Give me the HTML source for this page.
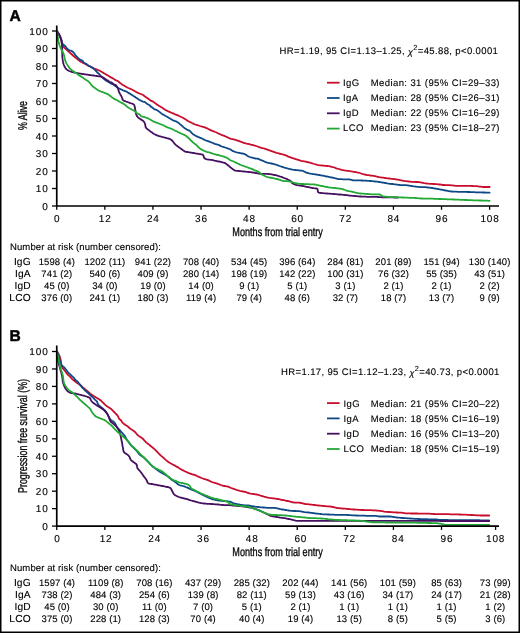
<!DOCTYPE html>
<html><head><meta charset="utf-8"><style>
html,body{margin:0;padding:0;background:#fff;}
body{width:520px;height:633px;overflow:hidden;position:relative;}
svg{position:absolute;left:0;top:0;display:block;will-change:transform;}
text{font-family:"Liberation Sans",sans-serif;fill:#000;stroke:#000;stroke-width:0.12px;text-rendering:geometricPrecision;}
.lt{font-size:15.6px;font-weight:bold;fill:#000;stroke:#000;stroke-width:0.45px;}
.tk{font-size:10px;letter-spacing:0.85px;}
.tx{font-size:9.5px;letter-spacing:0.4px;}
.tb{font-size:9.5px;letter-spacing:0.11px;}
.tr{font-size:10.2px;letter-spacing:0.15px;}
.cd{stroke:#111;stroke-width:0.35px;}
</style></head><body>
<svg width="520" height="633" viewBox="0 0 520 633">
<rect x="0.75" y="0.75" width="518.5" height="631.5" fill="#fff" stroke="#000" stroke-width="1.5"/>
<text x="9.6" y="20.55" class="lt">A</text>
<path d="M56.9,31.1 L57.5,32.0 L58.3,33.2 L59.1,34.5 L59.7,35.8 L60.3,37.2 L60.9,38.6 L61.3,40.0 L61.6,41.5 L61.7,43.0 L61.9,44.4 L62.3,45.8 L63.3,46.8 L64.5,47.8 L65.6,48.8 L66.7,49.8 L67.8,50.8 L68.5,51.5 L69.7,52.5 L70.8,53.5 L71.9,54.5 L73.0,55.5 L74.1,56.5 L75.3,57.5 L76.4,58.4 L77.6,59.3 L78.4,60.0 L79.6,60.9 L80.8,61.7 L82.2,62.4 L83.5,63.1 L84.8,63.7 L86.2,64.4 L87.1,64.9 L88.0,65.3 L88.9,65.8 L89.7,66.2 L90.6,66.7 L91.5,67.1 L92.4,67.6 L93.8,68.3 L95.1,68.9 L96.5,69.4 L97.5,69.8 L98.9,70.3 L100.2,71.0 L101.5,71.8 L102.3,72.3 L103.6,73.1 L104.9,73.8 L106.2,74.6 L107.5,75.3 L108.8,76.1 L110.1,76.9 L111.4,77.6 L112.7,78.3 L113.9,79.1 L115.2,79.9 L116.5,80.5 L117.9,81.1 L119.0,82.0 L120.1,83.0 L121.3,83.9 L122.5,84.8 L123.8,85.5 L125.1,86.3 L126.4,87.0 L127.8,87.7 L129.1,88.3 L130.1,88.7 L131.4,89.3 L132.8,90.0 L134.1,90.7 L135.4,91.5 L136.7,92.2 L138.0,92.9 L139.4,93.5 L140.8,94.0 L142.2,94.5 L143.4,95.3 L144.6,96.2 L145.8,97.1 L147.1,98.0 L148.3,98.8 L149.5,99.7 L150.6,100.7 L152.0,101.1 L153.3,101.6 L154.4,102.6 L155.6,103.5 L156.8,104.4 L158.1,105.2 L159.3,106.0 L160.6,106.8 L161.9,107.5 L163.2,108.3 L164.3,109.3 L165.5,110.1 L166.9,110.6 L168.2,111.3 L169.6,111.9 L170.9,112.5 L172.3,113.1 L173.7,113.7 L175.1,114.3 L176.5,114.8 L177.9,115.4 L179.2,116.0 L180.6,116.7 L181.9,117.3 L183.3,118.0 L184.5,118.8 L185.8,119.6 L187.1,120.4 L188.4,121.2 L189.7,121.9 L190.6,122.3 L191.5,122.8 L192.4,123.2 L193.7,123.9 L195.1,124.5 L196.5,124.9 L197.5,125.2 L198.4,125.5 L199.9,126.0 L201.3,126.4 L202.3,126.7 L203.2,126.9 L204.7,127.4 L206.1,127.9 L207.4,128.5 L208.8,129.2 L209.6,129.7 L211.0,130.3 L212.4,130.9 L213.8,131.4 L215.2,132.0 L216.6,132.5 L217.9,133.2 L218.8,133.6 L220.2,134.3 L221.5,134.9 L222.9,135.4 L224.3,135.9 L225.7,136.5 L227.1,137.1 L228.4,137.8 L229.8,138.4 L231.2,138.9 L232.7,139.2 L234.1,139.5 L235.6,139.9 L237.0,140.4 L238.4,140.9 L239.8,141.4 L241.2,141.9 L242.2,142.2 L243.6,142.8 L245.0,143.2 L246.5,143.6 L247.9,143.9 L249.4,144.2 L250.8,144.6 L251.8,144.8 L253.3,145.2 L254.7,145.6 L256.2,146.0 L257.6,146.5 L258.5,146.9 L259.9,147.3 L261.4,147.8 L262.8,148.2 L263.8,148.4 L265.2,148.8 L266.7,149.3 L268.1,149.8 L269.5,150.4 L270.9,150.9 L272.3,151.4 L273.7,151.9 L275.1,152.4 L276.5,152.9 L278.0,153.2 L278.9,153.5 L280.4,153.8 L281.9,154.2 L282.8,154.4 L284.3,154.8 L285.7,155.3 L287.0,155.9 L288.4,156.6 L289.8,157.1 L291.2,157.6 L292.6,158.1 L293.6,158.4 L295.0,158.9 L296.4,159.3 L297.4,159.6 L298.3,159.9 L299.8,160.4 L301.2,160.8 L302.7,161.1 L304.2,161.4 L305.6,161.7 L307.1,162.0 L308.6,162.3 L310.0,162.6 L311.5,163.1 L312.9,163.5 L314.3,164.0 L315.8,164.4 L317.2,164.8 L318.7,165.1 L320.2,165.3 L321.1,165.4 L322.1,165.5 L323.1,165.6 L324.1,165.7 L325.1,165.8 L326.1,165.9 L327.1,166.0 L328.6,166.2 L330.1,166.4 L331.5,166.8 L333.0,167.1 L334.4,167.5 L335.8,168.1 L337.2,168.6 L338.7,169.0 L340.1,169.4 L341.6,169.8 L343.0,170.1 L344.5,170.4 L346.0,170.6 L347.5,170.8 L348.5,170.9 L350.0,171.2 L351.4,171.4 L352.9,171.7 L353.9,171.8 L354.9,172.0 L355.9,172.2 L356.8,172.4 L358.3,172.6 L359.8,173.0 L361.2,173.5 L362.1,173.8 L363.1,174.1 L364.5,174.5 L366.0,174.8 L367.5,175.1 L368.5,175.2 L369.5,175.3 L370.4,175.5 L371.9,175.7 L373.4,175.9 L374.9,176.2 L375.9,176.4 L376.8,176.6 L377.8,176.8 L379.3,177.1 L380.8,177.3 L382.3,177.6 L383.3,177.7 L384.2,177.8 L385.2,178.0 L386.2,178.1 L387.7,178.3 L389.2,178.5 L390.7,178.7 L391.7,178.8 L392.7,178.9 L393.7,179.1 L395.2,179.2 L396.6,179.5 L398.1,179.7 L399.1,179.9 L400.1,180.1 L401.1,180.3 L402.5,180.6 L404.0,180.9 L405.5,181.1 L406.5,181.2 L407.5,181.4 L408.5,181.5 L409.9,181.7 L411.4,181.9 L412.9,181.9 L414.4,181.9 L415.9,182.0 L417.4,182.0 L418.9,182.2 L420.4,182.4 L421.9,182.6 L422.9,182.8 L424.3,183.1 L425.8,183.3 L426.8,183.5 L428.3,183.7 L429.8,183.8 L431.3,183.9 L432.3,183.9 L433.3,184.0 L434.3,184.0 L435.3,184.1 L436.8,184.1 L438.3,184.3 L439.7,184.5 L441.2,184.7 L442.7,185.0 L444.2,185.0 L445.7,185.1 L446.7,185.1 L447.7,185.2 L448.7,185.2 L449.7,185.2 L451.2,185.3 L452.7,185.4 L454.2,185.6 L455.7,185.8 L457.2,185.9 L458.7,185.9 L459.7,185.9 L460.7,185.9 L461.7,185.9 L462.7,185.9 L463.7,185.9 L464.7,185.9 L465.7,185.9 L466.7,185.9 L467.7,185.9 L469.2,185.9 L470.7,185.9 L472.2,186.0 L473.7,186.1 L475.2,186.1 L476.6,186.2 L478.1,186.4 L479.6,186.6 L480.6,186.7 L482.1,186.9 L483.6,187.0 L485.1,187.0 L486.1,187.0 L487.1,187.0 L488.6,187.0 L489.6,187.0" fill="none" stroke="#c90d2c" stroke-width="1.8" stroke-linejoin="round" stroke-linecap="round"/>
<path d="M56.9,31.1 L57.5,32.0 L58.3,33.2 L59.1,34.5 L59.7,35.8 L60.1,36.7 L60.5,37.6 L60.9,38.6 L61.2,39.5 L61.6,41.0 L62.0,42.4 L62.6,43.8 L63.5,44.9 L64.7,45.6 L65.8,46.6 L66.4,47.8 L67.1,48.7 L68.2,49.5 L69.2,50.3 L70.6,50.6 L72.0,51.1 L73.1,52.1 L74.1,53.2 L74.9,54.4 L75.7,55.7 L76.8,56.7 L77.5,57.4 L78.2,58.1 L79.0,58.8 L80.1,59.7 L81.5,60.3 L82.7,60.9 L83.4,62.1 L84.2,63.0 L85.6,63.4 L86.8,64.2 L87.6,65.3 L88.7,66.1 L90.1,66.4 L91.4,67.1 L92.6,68.0 L93.4,68.6 L94.6,69.6 L95.7,70.6 L96.6,71.7 L97.6,72.8 L98.8,73.7 L99.8,74.8 L100.4,75.6 L101.4,76.7 L102.5,77.7 L103.2,78.4 L104.4,79.4 L105.6,80.3 L106.8,81.1 L108.1,81.7 L109.4,82.5 L110.6,83.4 L111.9,83.9 L113.3,84.5 L114.5,85.3 L115.3,86.0 L116.1,86.6 L117.3,87.5 L118.6,88.2 L119.5,88.6 L120.4,89.1 L121.3,89.5 L122.2,89.9 L123.1,90.3 L124.5,90.8 L125.9,91.3 L127.2,92.1 L128.5,92.9 L129.8,93.6 L131.1,94.4 L132.3,95.2 L133.1,95.8 L134.0,96.3 L134.8,96.9 L135.7,97.4 L136.5,97.9 L137.8,98.8 L139.0,99.7 L140.3,100.4 L141.6,101.0 L142.9,101.6 L144.3,101.8 L145.5,102.6 L146.7,103.6 L147.9,104.3 L149.2,105.0 L150.3,106.0 L151.3,107.0 L152.6,107.6 L153.6,108.7 L154.7,109.4 L156.1,109.7 L157.4,110.4 L158.6,111.3 L159.4,111.9 L160.2,112.5 L161.0,113.1 L161.8,113.7 L162.6,114.2 L163.9,115.0 L165.2,115.8 L166.1,116.2 L167.0,116.7 L167.9,117.2 L169.1,118.0 L170.0,118.5 L170.8,119.0 L171.7,119.6 L173.0,120.3 L174.4,120.8 L175.3,121.2 L176.7,121.7 L178.0,122.5 L179.1,123.4 L179.9,124.1 L180.7,124.7 L181.4,125.4 L182.2,126.0 L182.9,126.7 L183.7,127.4 L184.8,128.3 L186.1,129.1 L187.4,129.9 L188.8,130.4 L190.0,131.0 L191.0,132.1 L191.9,133.2 L193.0,134.2 L194.3,134.9 L195.1,135.5 L196.4,136.2 L197.8,136.8 L198.7,137.2 L199.7,137.6 L200.6,137.9 L202.0,138.5 L203.3,139.2 L204.6,139.9 L206.0,140.5 L207.0,140.8 L207.9,141.1 L208.8,141.4 L209.8,141.8 L210.7,142.2 L211.6,142.5 L212.6,142.9 L213.5,143.3 L214.9,143.8 L215.9,144.1 L216.8,144.4 L217.8,144.7 L219.2,145.1 L220.4,145.9 L221.7,146.5 L223.2,146.9 L224.2,147.2 L225.1,147.5 L226.5,147.9 L227.5,148.3 L228.4,148.6 L229.4,149.0 L230.7,149.6 L231.9,150.4 L233.1,151.2 L234.5,151.7 L235.5,152.0 L236.4,152.3 L237.9,152.6 L239.3,152.9 L240.3,153.1 L241.3,153.3 L242.3,153.5 L243.3,153.7 L244.7,154.1 L246.0,154.8 L247.2,155.7 L248.4,156.5 L249.8,157.0 L251.2,157.4 L252.2,157.7 L253.2,157.9 L254.6,158.3 L256.1,158.5 L257.6,158.6 L258.9,159.1 L260.3,159.8 L261.7,160.3 L263.1,160.8 L264.4,161.5 L265.8,162.1 L267.2,162.6 L268.7,162.9 L269.6,163.1 L270.6,163.3 L271.6,163.5 L273.1,163.8 L274.0,164.1 L275.0,164.4 L275.9,164.7 L276.9,165.0 L277.8,165.3 L278.8,165.7 L279.7,166.0 L280.7,166.3 L281.6,166.7 L283.0,167.2 L284.5,167.6 L285.4,167.8 L286.4,168.1 L287.4,168.3 L288.3,168.6 L289.3,168.8 L290.3,169.1 L291.2,169.3 L292.7,169.7 L294.2,169.9 L295.2,170.0 L296.2,170.1 L297.2,170.2 L298.2,170.3 L299.2,170.4 L300.2,170.5 L301.7,170.6 L303.1,171.0 L304.4,171.7 L305.8,172.3 L307.2,172.8 L308.2,173.0 L309.1,173.3 L310.6,173.7 L312.1,173.9 L313.1,174.1 L314.0,174.2 L315.0,174.4 L316.0,174.5 L317.0,174.7 L318.0,174.9 L319.0,175.0 L320.0,175.2 L321.0,175.4 L321.9,175.6 L322.9,175.7 L323.9,175.9 L324.9,176.1 L325.9,176.3 L326.9,176.5 L327.8,176.7 L328.8,176.9 L329.8,177.1 L330.8,177.3 L331.8,177.5 L332.7,177.7 L333.7,177.9 L334.7,178.2 L335.7,178.4 L336.6,178.7 L338.1,179.0 L339.6,179.1 L340.6,179.2 L341.6,179.2 L342.6,179.3 L343.6,179.3 L344.6,179.3 L345.6,179.4 L346.6,179.4 L347.6,179.4 L348.6,179.4 L350.1,179.5 L351.5,179.9 L352.9,180.3 L354.4,180.4 L355.4,180.4 L356.4,180.4 L357.4,180.4 L358.4,180.4 L359.4,180.4 L360.4,180.4 L361.4,180.5 L362.4,180.5 L363.4,180.6 L364.4,180.6 L365.4,180.7 L366.4,180.7 L367.4,180.8 L368.4,180.8 L369.4,180.9 L370.4,181.0 L371.4,181.1 L372.4,181.2 L373.4,181.3 L374.4,181.4 L375.4,181.5 L376.4,181.6 L377.3,181.7 L378.3,181.9 L379.3,182.0 L380.3,182.2 L381.3,182.3 L382.3,182.5 L383.3,182.7 L384.3,182.9 L385.2,183.0 L386.2,183.2 L387.2,183.4 L388.7,183.6 L389.7,183.8 L390.7,183.9 L391.7,184.0 L392.7,184.0 L393.7,184.2 L394.7,184.3 L395.7,184.4 L396.6,184.6 L397.6,184.7 L398.6,184.8 L400.1,185.0 L401.6,185.1 L402.6,185.1 L403.6,185.1 L404.6,185.1 L406.1,185.1 L407.6,185.3 L408.6,185.5 L409.6,185.6 L410.5,185.8 L411.5,186.0 L412.5,186.2 L413.5,186.3 L414.5,186.4 L415.5,186.6 L416.5,186.7 L417.5,186.8 L418.5,186.9 L420.0,187.1 L421.0,187.1 L422.0,187.1 L423.0,187.1 L424.0,187.2 L425.5,187.2 L427.0,187.4 L427.9,187.5 L428.9,187.6 L429.9,187.7 L430.9,187.9 L431.9,188.0 L432.9,188.2 L433.9,188.4 L434.9,188.5 L435.9,188.7 L436.8,188.9 L437.8,189.0 L438.8,189.2 L439.8,189.4 L440.8,189.6 L441.8,189.7 L442.8,189.9 L443.7,190.1 L444.7,190.3 L445.7,190.5 L446.7,190.7 L447.7,190.9 L448.6,191.1 L450.1,191.4 L451.6,191.5 L452.6,191.6 L453.6,191.6 L454.6,191.7 L455.6,191.7 L456.6,191.7 L457.6,191.8 L458.6,191.8 L459.6,191.8 L460.6,191.8 L461.6,191.8 L462.6,191.9 L463.6,191.9 L464.6,191.9 L465.6,191.9 L466.6,191.9 L467.6,192.0 L468.6,192.0 L469.6,192.0 L470.6,192.1 L471.6,192.1 L472.6,192.2 L473.6,192.2 L474.6,192.2 L475.6,192.3 L476.6,192.3 L477.6,192.3 L478.6,192.3 L479.6,192.4 L480.6,192.4 L481.6,192.4 L482.6,192.5 L483.6,192.5 L484.6,192.5 L485.6,192.6 L486.6,192.6 L487.6,192.6 L489.0,192.7 L489.6,192.7" fill="none" stroke="#0e4987" stroke-width="1.8" stroke-linejoin="round" stroke-linecap="round"/>
<path d="M56.9,31.1 L57.5,32.0 L58.3,33.2 L59.1,34.5 L59.7,35.8 L60.1,36.7 L60.5,37.7 L60.9,38.6 L61.3,40.0 L61.6,41.5 L61.7,42.5 L61.8,43.5 L61.9,44.5 L62.0,45.4 L62.1,46.4 L62.1,47.4 L62.2,48.4 L62.2,49.4 L62.2,50.4 L62.2,51.4 L62.2,52.4 L62.2,53.4 L62.3,54.4 L62.3,55.5 L62.3,56.5 L62.4,57.9 L62.6,58.9 L62.7,59.9 L62.9,60.9 L63.0,61.9 L63.3,63.4 L63.8,64.8 L64.2,65.7 L64.8,67.1 L65.6,68.3 L66.6,69.4 L67.8,70.3 L69.1,71.0 L70.5,71.5 L71.5,71.8 L72.5,72.1 L73.4,72.4 L74.9,72.7 L75.9,72.9 L76.9,73.1 L77.8,73.2 L78.8,73.4 L79.8,73.6 L80.8,73.7 L81.8,73.9 L82.8,74.0 L83.8,74.1 L84.8,74.3 L85.8,74.4 L86.7,74.6 L87.7,74.7 L88.7,74.8 L89.7,75.0 L90.7,75.1 L91.7,75.3 L92.7,75.4 L93.7,75.5 L94.7,75.7 L95.7,75.8 L96.7,76.0 L97.6,76.1 L98.6,76.3 L99.6,76.4 L101.1,76.7 L102.5,77.2 L103.8,77.9 L105.0,78.8 L106.2,79.7 L107.5,80.3 L108.7,81.2 L109.8,82.0 L111.2,82.4 L112.4,83.0 L113.2,84.1 L114.5,84.6 L115.8,85.1 L116.7,86.2 L117.5,87.4 L118.1,88.8 L118.5,90.2 L118.9,91.7 L119.6,93.0 L120.0,93.9 L120.5,94.8 L121.0,95.6 L121.7,96.9 L122.3,98.3 L122.6,99.7 L123.6,100.6 L125.0,101.1 L125.9,101.5 L126.9,101.8 L127.8,102.2 L128.7,102.5 L129.7,102.9 L130.6,103.2 L131.6,103.5 L133.0,104.0 L134.1,104.8 L134.6,106.1 L134.9,107.5 L135.1,108.5 L135.2,109.5 L135.4,110.5 L135.6,111.5 L135.8,112.5 L136.0,113.4 L136.3,114.9 L137.0,116.2 L138.0,117.3 L139.1,118.3 L140.3,119.1 L141.2,119.6 L142.1,120.1 L143.3,121.0 L144.2,122.1 L144.9,123.4 L145.2,124.8 L145.4,125.8 L145.7,127.3 L146.5,128.4 L147.6,129.3 L148.4,129.9 L149.2,130.5 L150.0,131.1 L150.8,131.7 L151.7,132.3 L152.5,132.9 L153.7,133.7 L154.6,134.2 L155.5,134.6 L156.4,135.1 L157.7,135.7 L159.2,136.2 L160.1,136.4 L161.1,136.6 L162.1,136.9 L163.1,137.1 L164.0,137.4 L165.0,137.6 L166.0,137.9 L166.9,138.2 L167.9,138.5 L168.8,138.7 L170.2,139.2 L171.5,140.0 L172.6,141.0 L173.5,142.2 L174.1,143.0 L175.0,144.2 L176.1,145.2 L176.9,145.8 L177.7,146.4 L178.5,147.0 L179.3,147.5 L180.1,148.1 L180.9,148.7 L181.7,149.3 L182.5,149.9 L183.4,150.5 L184.6,151.3 L186.0,151.8 L187.4,152.0 L188.4,152.2 L189.4,152.3 L190.4,152.5 L191.4,152.6 L192.4,152.8 L193.4,153.0 L194.4,153.2 L195.3,153.4 L196.3,153.6 L197.3,153.7 L198.3,153.9 L199.3,154.1 L200.3,154.2 L201.3,154.4 L202.7,154.7 L203.5,155.6 L203.8,157.0 L204.4,158.2 L205.6,158.9 L207.0,159.3 L208.5,159.6 L209.5,159.7 L210.5,159.8 L211.5,159.9 L212.9,160.1 L214.4,160.6 L215.8,160.9 L216.8,161.1 L217.8,161.3 L218.8,161.5 L219.8,161.7 L220.7,161.9 L221.7,162.1 L222.7,162.4 L223.6,162.6 L225.1,163.1 L226.3,163.9 L227.4,164.8 L228.2,165.5 L229.0,166.1 L229.8,166.8 L230.5,167.4 L231.3,168.0 L232.1,168.6 L232.9,169.3 L234.1,170.1 L235.4,170.6 L236.9,170.8 L237.9,170.9 L238.9,171.0 L239.9,171.1 L240.9,171.2 L241.9,171.3 L242.9,171.4 L243.9,171.5 L244.9,171.6 L245.9,171.7 L246.9,171.8 L247.9,171.9 L248.9,172.0 L249.9,172.1 L250.9,172.2 L251.9,172.3 L252.8,172.5 L253.8,172.7 L254.8,172.9 L255.8,173.0 L256.8,173.2 L257.8,173.4 L258.7,173.6 L260.2,173.8 L261.7,173.8 L262.7,173.9 L263.7,173.9 L264.7,173.9 L265.7,173.9 L266.7,173.9 L267.7,173.9 L268.7,174.0 L270.2,174.1 L271.7,174.4 L272.7,174.6 L273.7,174.8 L274.6,175.0 L275.6,175.2 L276.6,175.4 L277.5,175.7 L278.5,176.0 L279.5,176.3 L280.4,176.6 L281.4,176.9 L282.3,177.2 L283.2,177.6 L284.2,178.0 L285.1,178.3 L286.0,178.7 L287.0,179.1 L288.3,179.7 L289.2,180.2 L290.5,180.9 L291.4,182.0 L292.3,183.2 L293.5,183.9 L294.9,184.5 L295.9,184.8 L297.3,185.2 L298.8,185.4 L299.8,185.6 L300.8,185.7 L301.8,185.9 L302.7,186.0 L303.7,186.2 L304.7,186.4 L305.7,186.6 L306.7,186.8 L307.7,187.0 L308.6,187.2 L309.6,187.4 L310.6,187.6 L311.6,187.8 L312.6,188.0 L314.0,188.2 L315.0,188.3 L316.5,188.5 L317.5,189.1 L317.8,190.4 L317.9,191.9 L318.7,192.7 L320.1,192.9 L321.1,193.0 L322.1,193.1 L323.1,193.2 L324.1,193.3 L325.1,193.3 L326.1,193.4 L327.1,193.5 L328.1,193.6 L329.1,193.6 L330.1,193.7 L331.1,193.8 L332.1,193.9 L333.1,193.9 L334.1,194.0 L335.1,194.1 L336.1,194.2 L337.1,194.3 L338.1,194.4 L339.1,194.5 L340.1,194.5 L341.1,194.6 L342.1,194.7 L343.1,194.8 L344.1,194.9 L345.1,195.0 L346.0,195.1 L347.0,195.2 L348.0,195.3 L349.0,195.5 L350.0,195.6 L351.0,195.7 L352.0,195.8 L353.0,195.8 L354.0,195.9 L355.0,196.0 L356.0,196.1 L357.0,196.2 L358.0,196.3 L359.0,196.4 L360.0,196.5 L361.0,196.5 L362.0,196.6 L363.0,196.6 L364.0,196.6 L365.0,196.7 L366.0,196.7 L367.0,196.8 L368.0,196.8 L369.0,196.8 L370.0,196.8 L371.0,196.8 L372.0,196.8 L373.0,196.8 L374.0,196.8 L375.0,196.8 L376.0,196.8 L377.0,196.9 L378.0,197.0 L379.0,197.1 L380.0,197.2 L381.0,197.2 L382.0,197.3 L383.0,197.3 L384.0,197.3 L385.0,197.3 L386.0,197.4 L387.0,197.4 L388.0,197.4 L389.0,197.4 L390.0,197.4 L391.0,197.4 L392.0,197.4 L393.0,197.4 L394.0,197.5 L395.0,197.5 L396.0,197.5 L397.4,197.5 L398.0,197.5" fill="none" stroke="#45105f" stroke-width="1.8" stroke-linejoin="round" stroke-linecap="round"/>
<path d="M57.1,31.8 L57.2,32.8 L57.4,34.3 L57.5,35.3 L57.6,36.3 L57.7,37.3 L57.9,38.3 L58.1,39.2 L58.2,40.2 L58.4,41.2 L58.8,42.7 L59.0,43.6 L59.3,44.6 L59.8,46.0 L60.4,47.4 L60.8,48.3 L61.2,49.2 L61.7,50.1 L62.2,50.9 L62.7,51.8 L63.3,53.2 L63.8,54.6 L64.2,56.0 L64.4,57.0 L64.6,58.0 L64.8,59.0 L65.1,59.9 L65.5,61.4 L66.1,62.7 L66.6,63.6 L67.4,64.9 L67.9,65.7 L68.5,66.6 L69.3,67.8 L70.3,68.9 L71.4,70.0 L72.6,70.8 L73.4,71.4 L74.3,71.9 L75.5,72.7 L76.4,73.3 L77.2,73.9 L78.0,74.5 L78.8,75.1 L80.0,75.9 L80.9,76.4 L81.8,76.9 L83.0,77.7 L84.2,78.6 L85.0,79.3 L86.2,80.1 L87.5,80.7 L88.7,81.6 L89.6,82.7 L90.3,83.5 L90.9,84.3 L91.5,85.0 L92.5,86.2 L93.6,87.1 L94.9,88.0 L95.7,88.5 L96.5,89.1 L97.3,89.7 L98.6,90.5 L99.9,91.1 L100.9,91.5 L101.8,91.8 L102.8,92.2 L103.7,92.5 L104.6,92.9 L105.6,93.2 L106.5,93.6 L107.9,94.2 L109.1,95.0 L109.9,95.7 L110.7,96.3 L111.4,96.9 L112.6,97.8 L113.9,98.6 L114.8,99.1 L115.7,99.5 L116.6,100.0 L117.5,100.4 L118.3,100.9 L119.6,101.7 L120.5,102.2 L121.8,102.9 L123.1,103.6 L124.4,104.4 L125.6,105.3 L126.3,106.0 L127.4,106.9 L128.7,107.8 L129.5,108.3 L130.4,108.8 L131.3,109.3 L132.2,109.8 L133.5,110.4 L134.8,111.1 L135.8,112.2 L136.9,113.2 L138.2,113.9 L139.5,114.4 L140.3,115.4 L141.3,116.3 L142.7,116.7 L143.6,116.9 L144.6,117.2 L145.6,117.5 L146.5,117.8 L147.5,118.1 L148.8,118.7 L150.1,119.5 L151.0,120.0 L151.8,120.5 L153.1,121.3 L154.5,121.9 L155.4,122.2 L156.4,122.6 L157.3,122.9 L158.2,123.3 L159.2,123.6 L160.1,124.0 L161.1,124.3 L162.0,124.7 L163.4,125.3 L164.3,125.8 L165.1,126.2 L166.0,126.7 L167.4,127.3 L168.3,127.6 L169.3,128.0 L170.2,128.3 L171.2,128.7 L172.5,129.3 L173.4,129.8 L174.3,130.2 L175.2,130.7 L176.1,131.1 L177.0,131.5 L177.9,132.0 L178.8,132.4 L179.7,132.9 L180.6,133.3 L181.5,133.7 L182.4,134.1 L183.4,134.5 L184.7,135.1 L186.0,135.9 L187.2,136.8 L187.9,137.5 L188.6,138.2 L189.4,138.8 L190.1,139.5 L190.8,140.3 L191.5,141.0 L192.2,141.7 L193.2,142.7 L194.5,143.6 L195.3,144.2 L196.5,145.1 L197.5,146.2 L198.2,146.9 L199.2,148.0 L200.4,148.9 L201.7,149.6 L203.0,150.3 L204.4,150.9 L205.3,151.3 L206.7,151.8 L208.2,152.2 L209.2,152.4 L210.6,152.8 L212.0,153.3 L212.9,153.7 L213.9,154.0 L215.3,154.4 L216.8,154.8 L217.8,155.0 L218.8,155.2 L220.2,155.6 L221.2,155.8 L222.1,156.1 L223.1,156.4 L224.0,156.7 L225.0,157.1 L225.9,157.4 L227.3,158.0 L228.5,158.9 L229.6,159.8 L230.9,160.5 L232.3,161.0 L233.7,161.5 L235.1,162.2 L236.0,162.6 L236.9,163.1 L237.7,163.5 L238.6,163.9 L239.5,164.4 L240.9,165.0 L241.9,165.3 L242.8,165.7 L243.8,166.0 L244.7,166.3 L245.6,166.7 L246.6,167.0 L247.5,167.4 L248.4,167.7 L249.4,168.1 L250.3,168.4 L251.3,168.7 L252.2,169.1 L253.6,169.7 L254.9,170.4 L256.3,170.9 L257.7,171.4 L259.0,172.1 L260.1,173.0 L260.9,173.7 L262.1,174.6 L263.4,175.3 L264.3,175.8 L265.2,176.2 L266.5,176.8 L268.0,177.2 L269.0,177.4 L269.9,177.6 L270.9,177.8 L271.9,178.0 L272.9,178.2 L273.9,178.4 L274.9,178.6 L275.8,178.8 L276.8,179.0 L278.3,179.3 L279.7,179.8 L280.6,180.2 L282.0,180.7 L283.5,181.0 L285.0,181.1 L286.0,181.2 L287.0,181.2 L288.0,181.3 L289.5,181.3 L290.9,181.7 L292.3,182.2 L293.2,182.5 L294.7,183.0 L295.6,183.2 L297.1,183.5 L298.6,183.7 L299.6,183.8 L300.6,183.9 L301.6,184.0 L302.6,184.0 L303.6,184.0 L304.6,184.1 L305.6,184.1 L306.6,184.1 L307.6,184.2 L308.6,184.2 L309.6,184.3 L310.6,184.3 L311.6,184.4 L312.6,184.4 L313.6,184.4 L315.1,184.5 L316.5,184.9 L317.5,185.1 L319.0,185.4 L319.9,185.6 L320.9,185.8 L321.9,186.0 L322.9,186.2 L323.9,186.4 L324.8,186.6 L325.8,186.8 L326.8,187.0 L327.8,187.2 L328.8,187.4 L330.3,187.6 L331.3,187.7 L332.3,187.8 L333.2,187.9 L334.2,187.9 L335.2,188.0 L336.2,188.1 L337.2,188.3 L338.2,188.4 L339.2,188.6 L340.2,188.7 L341.2,188.9 L342.2,189.1 L343.6,189.4 L345.0,190.0 L346.0,190.3 L347.4,190.8 L348.8,191.1 L350.3,191.3 L351.8,191.7 L352.7,191.9 L353.7,192.2 L354.7,192.4 L355.6,192.7 L356.6,192.9 L358.1,193.2 L359.6,193.4 L360.6,193.5 L361.6,193.6 L362.6,193.6 L363.6,193.7 L364.6,193.8 L365.6,193.8 L366.6,193.9 L367.6,194.0 L368.5,194.1 L369.5,194.1 L370.5,194.2 L371.5,194.3 L372.5,194.4 L373.5,194.4 L374.5,194.4 L375.5,194.4 L376.5,194.4 L377.5,194.4 L378.5,194.4 L380.0,194.5 L381.2,195.2 L382.3,196.1 L383.6,196.5 L385.1,196.6 L386.1,196.7 L387.1,196.8 L388.1,196.9 L389.1,197.0 L390.1,197.1 L391.1,197.1 L392.1,197.1 L393.1,197.2 L394.1,197.2 L395.1,197.2 L396.1,197.2 L397.1,197.3 L398.1,197.3 L399.1,197.3 L400.1,197.4 L401.1,197.4 L402.1,197.5 L403.1,197.5 L404.1,197.6 L405.1,197.6 L406.1,197.7 L407.1,197.7 L408.1,197.7 L409.1,197.8 L410.1,197.8 L411.1,197.8 L412.1,197.8 L413.1,197.8 L414.1,197.9 L415.6,198.0 L416.6,198.1 L417.6,198.2 L418.6,198.3 L420.1,198.4 L421.1,198.5 L422.1,198.5 L423.1,198.6 L424.1,198.6 L425.1,198.6 L426.1,198.6 L427.1,198.7 L428.1,198.7 L429.1,198.7 L430.1,198.7 L431.1,198.7 L432.1,198.7 L433.1,198.7 L434.1,198.8 L435.1,198.8 L436.1,198.9 L437.1,198.9 L438.1,198.9 L439.1,199.0 L440.1,199.0 L441.1,199.0 L442.1,199.1 L443.1,199.1 L444.1,199.1 L445.1,199.2 L446.1,199.2 L447.1,199.3 L448.1,199.3 L449.1,199.3 L450.1,199.4 L451.1,199.4 L452.1,199.4 L453.1,199.5 L454.1,199.5 L455.1,199.6 L456.1,199.6 L457.1,199.6 L458.1,199.7 L459.1,199.7 L460.1,199.8 L461.1,199.8 L462.1,199.8 L463.1,199.9 L464.1,199.9 L465.1,200.0 L466.1,200.0 L467.1,200.0 L468.1,200.1 L469.1,200.1 L470.1,200.1 L471.1,200.2 L472.1,200.2 L473.1,200.3 L474.1,200.3 L475.1,200.3 L476.1,200.4 L477.1,200.4 L478.1,200.4 L479.1,200.5 L480.1,200.5 L481.1,200.5 L482.1,200.6 L483.1,200.6 L484.1,200.6 L485.1,200.7 L486.1,200.7 L487.1,200.7 L488.6,200.8 L489.6,200.8" fill="none" stroke="#22a935" stroke-width="1.8" stroke-linejoin="round" stroke-linecap="round"/>
<path d="M56.75,25.4 V206 H499" fill="none" stroke="#000" stroke-width="1.7"/>
<path d="M52,206.00 H56.75" stroke="#000" stroke-width="1.3"/>
<text x="48.6" y="209.60" class="tk" text-anchor="end">0</text>
<path d="M52,188.50 H56.75" stroke="#000" stroke-width="1.3"/>
<text x="48.6" y="192.10" class="tk" text-anchor="end">10</text>
<path d="M52,171.00 H56.75" stroke="#000" stroke-width="1.3"/>
<text x="48.6" y="174.60" class="tk" text-anchor="end">20</text>
<path d="M52,153.50 H56.75" stroke="#000" stroke-width="1.3"/>
<text x="48.6" y="157.10" class="tk" text-anchor="end">30</text>
<path d="M52,136.00 H56.75" stroke="#000" stroke-width="1.3"/>
<text x="48.6" y="139.60" class="tk" text-anchor="end">40</text>
<path d="M52,118.50 H56.75" stroke="#000" stroke-width="1.3"/>
<text x="48.6" y="122.10" class="tk" text-anchor="end">50</text>
<path d="M52,101.00 H56.75" stroke="#000" stroke-width="1.3"/>
<text x="48.6" y="104.60" class="tk" text-anchor="end">60</text>
<path d="M52,83.50 H56.75" stroke="#000" stroke-width="1.3"/>
<text x="48.6" y="87.10" class="tk" text-anchor="end">70</text>
<path d="M52,66.00 H56.75" stroke="#000" stroke-width="1.3"/>
<text x="48.6" y="69.60" class="tk" text-anchor="end">80</text>
<path d="M52,48.50 H56.75" stroke="#000" stroke-width="1.3"/>
<text x="48.6" y="52.10" class="tk" text-anchor="end">90</text>
<path d="M52,31.00 H56.75" stroke="#000" stroke-width="1.3"/>
<text x="48.6" y="34.60" class="tk" text-anchor="end">100</text>
<path d="M56.75,206 V209.8" stroke="#000" stroke-width="1.3"/>
<text x="57.15" y="222" class="tk" text-anchor="middle">0</text>
<path d="M104.85,206 V209.8" stroke="#000" stroke-width="1.3"/>
<text x="105.25" y="222" class="tk" text-anchor="middle">12</text>
<path d="M152.94,206 V209.8" stroke="#000" stroke-width="1.3"/>
<text x="153.34" y="222" class="tk" text-anchor="middle">24</text>
<path d="M201.04,206 V209.8" stroke="#000" stroke-width="1.3"/>
<text x="201.44" y="222" class="tk" text-anchor="middle">36</text>
<path d="M249.13,206 V209.8" stroke="#000" stroke-width="1.3"/>
<text x="249.53" y="222" class="tk" text-anchor="middle">48</text>
<path d="M297.23,206 V209.8" stroke="#000" stroke-width="1.3"/>
<text x="297.63" y="222" class="tk" text-anchor="middle">60</text>
<path d="M345.33,206 V209.8" stroke="#000" stroke-width="1.3"/>
<text x="345.73" y="222" class="tk" text-anchor="middle">72</text>
<path d="M393.42,206 V209.8" stroke="#000" stroke-width="1.3"/>
<text x="393.82" y="222" class="tk" text-anchor="middle">84</text>
<path d="M441.52,206 V209.8" stroke="#000" stroke-width="1.3"/>
<text x="441.92" y="222" class="tk" text-anchor="middle">96</text>
<path d="M489.61,206 V209.8" stroke="#000" stroke-width="1.3"/>
<text x="490.01" y="222" class="tk" text-anchor="middle">108</text>
<text x="277.6" y="236.4" class="cd" font-size="12.3" text-anchor="middle" textLength="90.5" lengthAdjust="spacingAndGlyphs">Months from trial entry</text>
<text transform="translate(26.9,115.55) rotate(-90)" x="0" y="0" class="cd" font-size="12.8" text-anchor="middle" textLength="29.1" lengthAdjust="spacingAndGlyphs">% Alive</text>
<text x="279.6" y="54.1" class="tx" style="letter-spacing:0.37px">HR=1.19, 95 CI=1.13–1.25, <tspan font-style="italic" font-size="9" dy="0.8">χ</tspan><tspan dy="-4.8" font-size="7.3">2</tspan><tspan dy="4">=45.88, p&lt;0.0001</tspan></text>
<path d="M327,82.7 H339.6" stroke="#c90d2c" stroke-width="1.8"/>
<text x="343.0" y="86.3" class="tx">IgG</text>
<text x="370.8" y="86.3" class="tx">Median: 31 (95% CI=29–33)</text>
<path d="M327,98.0 H339.6" stroke="#0e4987" stroke-width="1.8"/>
<text x="343.0" y="101.3" class="tx">IgA</text>
<text x="370.8" y="101.3" class="tx">Median: 28 (95% CI=26–31)</text>
<path d="M327,113.3 H339.6" stroke="#45105f" stroke-width="1.8"/>
<text x="343.0" y="116.3" class="tx">IgD</text>
<text x="370.8" y="116.3" class="tx">Median: 22 (95% CI=16–29)</text>
<path d="M327,128.6 H339.6" stroke="#22a935" stroke-width="1.8"/>
<text x="343.0" y="131.3" class="tx">LCO</text>
<text x="370.8" y="131.3" class="tx">Median: 23 (95% CI=18–27)</text>
<text x="10.0" y="250.3" class="tb">Number at risk (number censored):</text>
<text x="30.75" y="265.1" class="tr" text-anchor="end">IgG</text>
<text x="56.80" y="265.1" class="tb" text-anchor="middle">1598 (4)</text>
<text x="104.90" y="265.1" class="tb" text-anchor="middle">1202 (11)</text>
<text x="153.00" y="265.1" class="tb" text-anchor="middle">941 (22)</text>
<text x="201.09" y="265.1" class="tb" text-anchor="middle">708 (40)</text>
<text x="249.19" y="265.1" class="tb" text-anchor="middle">534 (45)</text>
<text x="297.29" y="265.1" class="tb" text-anchor="middle">396 (64)</text>
<text x="345.38" y="265.1" class="tb" text-anchor="middle">284 (81)</text>
<text x="393.48" y="265.1" class="tb" text-anchor="middle">201 (89)</text>
<text x="441.57" y="265.1" class="tb" text-anchor="middle">151 (94)</text>
<text x="489.67" y="265.1" class="tb" text-anchor="middle">130 (140)</text>
<text x="30.75" y="277.1" class="tr" text-anchor="end">IgA</text>
<text x="56.80" y="277.1" class="tb" text-anchor="middle">741 (2)</text>
<text x="104.90" y="277.1" class="tb" text-anchor="middle">540 (6)</text>
<text x="153.00" y="277.1" class="tb" text-anchor="middle">409 (9)</text>
<text x="201.09" y="277.1" class="tb" text-anchor="middle">280 (14)</text>
<text x="249.19" y="277.1" class="tb" text-anchor="middle">198 (19)</text>
<text x="297.29" y="277.1" class="tb" text-anchor="middle">142 (22)</text>
<text x="345.38" y="277.1" class="tb" text-anchor="middle">100 (31)</text>
<text x="393.48" y="277.1" class="tb" text-anchor="middle">76 (32)</text>
<text x="441.57" y="277.1" class="tb" text-anchor="middle">55 (35)</text>
<text x="489.67" y="277.1" class="tb" text-anchor="middle">43 (51)</text>
<text x="30.75" y="289.1" class="tr" text-anchor="end">IgD</text>
<text x="56.80" y="289.1" class="tb" text-anchor="middle">45 (0)</text>
<text x="104.90" y="289.1" class="tb" text-anchor="middle">34 (0)</text>
<text x="153.00" y="289.1" class="tb" text-anchor="middle">19 (0)</text>
<text x="201.09" y="289.1" class="tb" text-anchor="middle">14 (0)</text>
<text x="249.19" y="289.1" class="tb" text-anchor="middle">9 (1)</text>
<text x="297.29" y="289.1" class="tb" text-anchor="middle">5 (1)</text>
<text x="345.38" y="289.1" class="tb" text-anchor="middle">3 (1)</text>
<text x="393.48" y="289.1" class="tb" text-anchor="middle">2 (1)</text>
<text x="441.57" y="289.1" class="tb" text-anchor="middle">2 (1)</text>
<text x="489.67" y="289.1" class="tb" text-anchor="middle">2 (2)</text>
<text x="30.75" y="301.1" class="tr" text-anchor="end">LCO</text>
<text x="56.80" y="301.1" class="tb" text-anchor="middle">376 (0)</text>
<text x="104.90" y="301.1" class="tb" text-anchor="middle">241 (1)</text>
<text x="153.00" y="301.1" class="tb" text-anchor="middle">180 (3)</text>
<text x="201.09" y="301.1" class="tb" text-anchor="middle">119 (4)</text>
<text x="249.19" y="301.1" class="tb" text-anchor="middle">79 (4)</text>
<text x="297.29" y="301.1" class="tb" text-anchor="middle">48 (6)</text>
<text x="345.38" y="301.1" class="tb" text-anchor="middle">32 (7)</text>
<text x="393.48" y="301.1" class="tb" text-anchor="middle">18 (7)</text>
<text x="441.57" y="301.1" class="tb" text-anchor="middle">13 (7)</text>
<text x="489.67" y="301.1" class="tb" text-anchor="middle">9 (9)</text>
<text x="9.6" y="340.85" class="lt">B</text>
<path d="M57.2,351.7 L57.8,352.6 L58.5,353.8 L59.1,355.2 L59.5,356.1 L60.0,357.5 L60.3,358.5 L60.7,359.9 L61.0,361.4 L61.1,362.9 L61.3,364.4 L61.5,365.8 L62.1,367.2 L62.9,368.4 L63.6,369.2 L64.2,370.0 L64.8,370.7 L65.4,371.5 L66.0,372.3 L66.6,373.1 L67.5,374.3 L68.6,375.4 L69.7,376.4 L70.7,377.5 L71.7,378.6 L72.8,379.6 L73.6,380.3 L74.8,381.2 L76.0,382.1 L76.8,382.7 L77.6,383.3 L78.4,383.8 L79.2,384.4 L80.4,385.3 L81.6,386.3 L82.3,386.9 L83.1,387.6 L83.9,388.2 L84.6,388.9 L85.4,389.5 L86.2,390.1 L86.9,390.8 L88.1,391.7 L89.1,392.8 L90.3,393.8 L91.5,394.6 L92.4,395.1 L93.2,395.7 L94.1,396.2 L94.9,396.7 L95.7,397.3 L97.0,398.0 L97.9,398.5 L99.2,399.3 L100.4,400.2 L101.5,401.2 L102.2,401.9 L103.3,402.9 L104.0,403.6 L104.7,404.4 L105.8,405.4 L106.9,406.3 L108.2,407.1 L109.1,407.6 L110.4,408.4 L111.5,409.3 L112.6,410.4 L113.2,411.1 L113.9,411.8 L114.7,412.5 L115.4,413.3 L116.1,414.0 L117.1,415.0 L118.0,416.2 L118.6,417.6 L119.2,418.9 L120.2,419.7 L121.2,420.5 L121.8,421.7 L122.7,422.9 L123.8,423.8 L125.1,424.7 L126.3,425.5 L127.6,426.3 L128.7,427.2 L129.7,428.3 L130.9,429.1 L132.2,429.9 L133.5,430.7 L134.7,431.7 L135.7,432.8 L136.3,433.5 L137.0,434.3 L138.0,435.4 L139.2,436.3 L140.4,437.1 L141.3,437.6 L142.5,438.5 L143.6,439.5 L144.5,440.7 L145.2,441.4 L146.2,442.5 L147.4,443.4 L148.2,444.0 L149.0,444.6 L149.8,445.2 L151.0,446.2 L152.1,447.1 L152.9,447.8 L153.6,448.4 L154.4,449.1 L155.5,450.1 L156.5,451.2 L157.2,451.9 L157.9,452.7 L158.6,453.4 L159.6,454.5 L160.7,455.4 L161.5,456.1 L162.3,456.7 L163.0,457.4 L163.8,458.1 L164.5,458.7 L165.2,459.4 L166.0,460.1 L167.1,461.0 L168.4,461.9 L169.2,462.4 L170.0,463.0 L170.9,463.5 L172.2,464.2 L173.5,464.9 L174.9,465.6 L175.7,466.1 L176.6,466.6 L177.5,467.1 L178.3,467.6 L179.2,468.2 L180.0,468.7 L181.3,469.5 L182.6,470.1 L183.5,470.6 L184.4,471.0 L185.3,471.5 L186.2,471.9 L187.1,472.3 L188.0,472.7 L188.9,473.2 L190.3,473.7 L191.8,474.2 L192.7,474.5 L193.7,474.7 L195.1,475.2 L196.5,475.7 L197.4,476.2 L198.3,476.6 L199.2,477.0 L200.1,477.4 L201.5,478.0 L202.9,478.5 L203.9,478.8 L204.8,479.1 L205.8,479.4 L207.2,479.8 L208.6,480.4 L209.5,480.9 L210.4,481.3 L211.7,482.0 L213.1,482.4 L214.1,482.7 L215.1,482.9 L216.5,483.3 L217.9,483.9 L218.9,484.2 L219.8,484.6 L220.7,485.0 L222.1,485.5 L223.6,485.8 L224.6,486.0 L225.5,486.2 L226.5,486.4 L228.0,486.7 L229.4,487.2 L230.3,487.6 L231.3,488.0 L232.2,488.3 L233.1,488.7 L234.5,489.2 L235.5,489.5 L236.4,489.8 L237.4,490.1 L238.3,490.4 L239.8,490.8 L241.3,491.1 L242.2,491.3 L243.2,491.5 L244.7,491.8 L246.1,492.2 L247.1,492.6 L248.0,492.9 L249.4,493.4 L250.9,493.7 L252.4,493.9 L253.4,494.0 L254.4,494.1 L255.3,494.3 L256.8,494.5 L258.3,494.9 L259.2,495.2 L260.2,495.5 L261.1,495.8 L262.1,496.0 L263.1,496.3 L264.0,496.6 L265.0,496.8 L266.0,497.1 L266.9,497.3 L267.9,497.6 L269.4,497.9 L270.9,498.1 L271.9,498.2 L272.8,498.3 L273.8,498.4 L275.3,498.6 L276.8,498.8 L277.8,499.0 L278.8,499.2 L279.8,499.4 L280.7,499.6 L281.7,499.8 L282.7,500.0 L283.7,500.2 L284.7,500.4 L285.6,500.6 L286.6,500.8 L287.6,501.0 L288.6,501.2 L289.5,501.5 L290.5,501.7 L291.5,502.0 L292.9,502.3 L294.4,502.5 L295.9,502.6 L296.9,502.6 L297.9,502.6 L299.4,502.7 L300.9,503.0 L301.8,503.2 L302.8,503.5 L303.8,503.7 L305.3,504.0 L306.7,504.1 L307.7,504.2 L308.7,504.3 L309.7,504.4 L310.7,504.6 L311.7,504.7 L312.7,504.8 L313.7,504.9 L314.7,505.0 L315.7,505.1 L316.7,505.3 L317.7,505.4 L318.7,505.5 L319.7,505.6 L320.7,505.7 L321.7,505.8 L322.7,505.9 L323.6,506.0 L324.6,506.1 L325.6,506.2 L326.6,506.3 L327.6,506.4 L328.6,506.4 L329.6,506.5 L331.1,506.7 L332.6,507.0 L333.6,507.2 L334.5,507.4 L335.5,507.6 L336.5,507.8 L337.5,508.0 L339.0,508.2 L340.5,508.4 L341.5,508.4 L342.5,508.5 L343.5,508.6 L344.4,508.7 L345.4,508.7 L346.4,508.8 L347.4,508.9 L348.4,509.0 L349.4,509.1 L350.4,509.2 L351.4,509.3 L352.4,509.4 L353.4,509.5 L354.4,509.5 L355.4,509.6 L356.4,509.7 L357.4,509.7 L358.4,509.8 L359.4,509.9 L360.4,509.9 L361.4,510.0 L362.4,510.0 L363.4,510.0 L364.4,510.1 L365.4,510.1 L366.4,510.1 L367.4,510.2 L368.4,510.2 L369.4,510.2 L370.4,510.2 L371.4,510.2 L372.4,510.3 L373.4,510.3 L374.9,510.3 L376.4,510.5 L377.4,510.6 L378.4,510.7 L379.4,510.8 L380.4,510.9 L381.4,511.1 L382.3,511.2 L383.3,511.4 L384.3,511.6 L385.8,511.8 L387.3,511.9 L388.3,512.0 L389.3,512.0 L390.3,512.1 L391.3,512.2 L392.3,512.2 L393.3,512.3 L394.3,512.3 L395.3,512.4 L396.3,512.5 L397.3,512.5 L398.3,512.6 L399.3,512.6 L400.3,512.7 L401.3,512.7 L402.8,512.9 L404.3,513.1 L405.7,513.3 L407.2,513.4 L408.2,513.4 L409.2,513.4 L410.2,513.4 L411.2,513.5 L412.2,513.5 L413.2,513.5 L414.2,513.5 L415.2,513.5 L416.2,513.5 L417.2,513.5 L418.2,513.6 L419.2,513.6 L420.2,513.6 L421.2,513.6 L422.2,513.7 L423.2,513.7 L424.2,513.7 L425.2,513.7 L426.2,513.7 L427.2,513.7 L428.2,513.7 L429.2,513.7 L430.7,513.8 L432.2,513.9 L433.7,514.0 L435.2,514.1 L436.2,514.1 L437.2,514.1 L438.2,514.1 L439.2,514.1 L440.2,514.1 L441.2,514.1 L442.2,514.1 L443.2,514.1 L444.2,514.1 L445.2,514.1 L446.2,514.2 L447.2,514.2 L448.2,514.2 L449.2,514.2 L450.2,514.3 L451.2,514.3 L452.2,514.3 L453.2,514.3 L454.2,514.4 L455.2,514.4 L456.2,514.4 L457.2,514.4 L458.2,514.4 L459.2,514.5 L460.2,514.5 L461.2,514.6 L462.2,514.6 L463.2,514.6 L464.2,514.7 L465.2,514.7 L466.2,514.7 L467.2,514.8 L468.2,514.8 L469.2,514.9 L470.2,514.9 L471.2,515.0 L472.2,515.0 L473.2,515.1 L474.2,515.2 L475.2,515.2 L476.2,515.3 L477.2,515.4 L478.2,515.4 L479.7,515.4 L480.7,515.5 L481.7,515.5 L482.7,515.5 L483.7,515.5 L484.7,515.5 L485.7,515.5 L486.7,515.5 L488.2,515.5 L489.2,515.5" fill="none" stroke="#c90d2c" stroke-width="1.8" stroke-linejoin="round" stroke-linecap="round"/>
<path d="M57.2,351.7 L57.5,352.7 L57.9,354.1 L58.2,355.1 L58.5,356.0 L58.8,357.0 L59.1,357.9 L59.4,358.9 L59.8,360.3 L60.1,361.8 L60.5,363.2 L61.2,364.6 L62.1,365.7 L63.3,366.6 L64.4,367.5 L65.3,368.7 L66.1,369.9 L67.1,371.0 L68.0,372.2 L68.9,373.3 L70.0,374.0 L71.0,375.1 L72.0,376.2 L73.1,377.2 L74.2,378.2 L75.0,379.4 L76.0,380.5 L77.2,381.3 L78.2,382.4 L79.1,383.5 L79.8,384.3 L80.4,385.1 L81.0,385.9 L81.6,386.7 L82.5,387.9 L83.6,388.9 L84.3,389.6 L85.0,390.3 L86.1,391.4 L87.2,392.4 L88.0,393.0 L88.7,393.7 L89.5,394.3 L90.2,395.0 L91.0,395.7 L91.7,396.3 L92.8,397.4 L93.8,398.4 L94.9,399.6 L96.0,400.5 L97.0,401.6 L97.5,402.9 L98.1,404.3 L99.0,405.4 L100.2,406.4 L100.9,407.0 L101.7,407.7 L102.5,408.3 L103.2,408.9 L104.4,409.9 L105.4,411.0 L106.2,412.2 L107.1,413.5 L107.8,414.8 L108.4,416.1 L109.1,417.5 L109.9,418.8 L110.8,419.9 L112.0,420.8 L113.3,421.5 L114.4,422.4 L115.2,423.6 L115.9,425.0 L116.5,426.3 L117.2,427.6 L118.2,428.6 L119.3,429.5 L120.2,430.7 L121.2,431.9 L122.2,433.0 L122.9,433.7 L123.9,434.8 L124.8,436.0 L125.5,437.3 L126.0,438.2 L126.8,439.5 L127.6,440.7 L128.2,441.5 L128.8,442.4 L129.6,443.6 L130.6,444.7 L131.6,445.8 L132.3,446.5 L133.0,447.2 L133.7,447.9 L134.4,448.6 L135.2,449.4 L135.9,450.1 L136.9,451.1 L137.8,452.3 L138.4,453.1 L139.4,454.3 L140.4,455.3 L141.7,456.1 L143.0,456.9 L144.1,457.8 L145.2,458.9 L145.9,459.6 L146.6,460.3 L147.3,461.0 L148.0,461.7 L148.7,462.5 L149.4,463.2 L150.4,464.3 L151.5,465.3 L152.2,466.0 L153.4,467.0 L154.5,467.9 L155.3,468.5 L156.1,469.1 L156.9,469.7 L158.1,470.6 L159.4,471.4 L160.2,471.9 L161.1,472.5 L162.4,473.3 L163.7,474.0 L164.6,474.4 L165.5,474.9 L166.8,475.6 L168.0,476.5 L169.1,477.5 L169.8,478.2 L170.9,479.2 L172.1,480.0 L173.0,480.6 L173.8,481.1 L175.1,481.9 L176.3,482.8 L177.4,483.8 L178.6,484.7 L179.9,485.3 L181.4,485.6 L182.8,486.0 L184.3,486.4 L185.7,487.0 L186.6,487.3 L188.0,487.9 L189.3,488.6 L190.7,489.2 L192.1,489.8 L193.0,490.1 L194.4,490.7 L195.8,491.3 L197.1,492.0 L198.0,492.5 L198.9,492.9 L199.7,493.4 L200.6,493.8 L201.5,494.3 L202.4,494.7 L203.3,495.2 L204.2,495.6 L205.1,496.0 L206.0,496.5 L207.4,497.1 L208.8,497.7 L209.7,498.1 L210.6,498.4 L211.6,498.8 L213.0,499.3 L214.4,499.7 L215.9,500.0 L216.9,500.2 L218.3,500.5 L219.8,500.7 L221.3,500.8 L222.3,500.9 L223.3,501.0 L224.3,501.1 L225.3,501.2 L226.3,501.3 L227.3,501.4 L228.3,501.5 L229.8,501.7 L231.2,502.1 L232.5,502.8 L233.9,503.3 L235.3,503.7 L236.3,503.9 L237.3,504.2 L238.8,504.4 L240.2,504.7 L241.2,504.8 L242.2,505.0 L243.2,505.1 L244.7,505.3 L246.2,505.4 L247.2,505.4 L248.2,505.4 L249.7,505.6 L251.1,506.0 L252.5,506.3 L254.0,506.5 L255.0,506.7 L256.0,506.8 L257.0,506.9 L258.0,507.0 L259.0,507.1 L260.0,507.2 L261.0,507.3 L262.0,507.4 L263.0,507.5 L264.0,507.5 L265.0,507.6 L266.0,507.7 L267.0,507.8 L268.5,507.9 L270.0,507.9 L271.0,507.9 L272.0,507.9 L273.0,507.9 L274.5,507.9 L275.9,508.1 L277.4,508.4 L278.4,508.6 L279.4,508.8 L280.3,509.1 L281.3,509.3 L282.8,509.5 L283.8,509.7 L284.8,509.9 L285.7,510.0 L286.7,510.2 L287.7,510.3 L288.7,510.5 L289.7,510.7 L291.2,510.9 L292.7,510.9 L293.7,511.0 L294.7,511.0 L295.7,511.0 L296.7,511.1 L297.7,511.1 L299.2,511.2 L300.7,511.4 L302.1,511.7 L303.1,511.9 L304.6,512.2 L306.1,512.3 L307.6,512.3 L309.0,512.5 L310.0,512.6 L311.0,512.8 L312.0,512.9 L313.0,513.1 L314.0,513.2 L315.0,513.3 L316.0,513.5 L317.0,513.6 L318.0,513.7 L319.0,513.8 L320.0,513.9 L320.9,514.0 L321.9,514.2 L323.4,514.3 L324.9,514.4 L325.9,514.4 L326.9,514.4 L327.9,514.5 L328.9,514.5 L329.9,514.6 L330.9,514.6 L331.9,514.6 L332.9,514.7 L333.9,514.7 L334.9,514.8 L335.9,514.8 L336.9,514.8 L337.9,514.9 L338.9,514.9 L339.9,514.9 L340.9,514.9 L341.9,514.9 L342.9,514.9 L343.9,514.9 L344.9,514.9 L346.4,514.9 L347.9,515.0 L348.9,515.1 L349.9,515.1 L350.9,515.2 L351.9,515.3 L352.9,515.3 L353.9,515.4 L354.9,515.4 L355.9,515.5 L356.9,515.5 L357.9,515.6 L358.9,515.6 L359.9,515.6 L360.9,515.7 L361.9,515.7 L362.9,515.7 L363.9,515.7 L364.9,515.7 L365.9,515.8 L366.9,515.8 L367.9,515.8 L368.9,515.8 L369.9,515.8 L370.9,515.8 L371.9,515.8 L372.9,515.8 L374.4,515.8 L375.9,515.9 L377.4,516.1 L378.4,516.3 L379.9,516.5 L381.4,516.5 L382.4,516.5 L383.4,516.5 L384.4,516.5 L385.4,516.5 L386.4,516.5 L387.4,516.5 L388.4,516.5 L389.9,516.5 L391.3,516.7 L392.8,516.9 L393.8,517.0 L394.8,517.2 L395.8,517.3 L397.3,517.5 L398.3,517.6 L399.3,517.7 L400.3,517.8 L401.3,517.9 L402.3,518.0 L403.3,518.0 L404.3,518.1 L405.3,518.2 L406.3,518.2 L407.3,518.3 L408.3,518.4 L409.3,518.4 L410.3,518.5 L411.3,518.6 L412.2,518.6 L413.2,518.7 L414.2,518.8 L415.2,518.8 L416.2,518.9 L417.2,518.9 L418.2,519.0 L419.2,519.0 L420.2,519.1 L421.2,519.1 L422.2,519.1 L423.2,519.1 L424.2,519.2 L425.2,519.2 L426.2,519.2 L427.2,519.2 L428.2,519.3 L429.2,519.3 L430.2,519.3 L431.2,519.3 L432.2,519.4 L433.2,519.4 L434.2,519.5 L435.2,519.5 L436.2,519.5 L437.7,519.6 L439.2,519.8 L440.7,520.0 L442.2,520.0 L443.2,520.0 L444.2,520.0 L445.2,520.0 L446.2,520.0 L447.2,520.0 L448.2,520.1 L449.2,520.1 L450.2,520.1 L451.2,520.1 L452.2,520.1 L453.2,520.1 L454.2,520.1 L455.2,520.1 L456.2,520.1 L457.2,520.1 L458.2,520.1 L459.2,520.1 L460.2,520.1 L461.2,520.2 L462.2,520.2 L463.2,520.2 L464.2,520.2 L465.2,520.2 L466.2,520.2 L467.2,520.2 L468.2,520.2 L469.2,520.2 L470.2,520.2 L471.2,520.2 L472.2,520.2 L473.2,520.2 L474.2,520.2 L475.2,520.2 L476.2,520.2 L477.2,520.2 L478.2,520.2 L479.2,520.2 L480.2,520.3 L481.2,520.3 L482.2,520.3 L483.2,520.3 L484.2,520.3 L485.2,520.3 L486.2,520.3 L487.2,520.3 L488.6,520.3 L489.2,520.3" fill="none" stroke="#0e4987" stroke-width="1.8" stroke-linejoin="round" stroke-linecap="round"/>
<path d="M57.1,352.1 L57.2,353.1 L57.3,354.5 L57.4,355.5 L57.5,356.5 L57.6,357.5 L57.7,358.5 L57.8,360.0 L58.2,361.5 L58.4,362.5 L58.6,363.4 L58.9,364.4 L59.2,365.4 L59.5,366.3 L59.7,367.3 L60.0,368.2 L60.3,369.2 L60.5,370.2 L60.8,371.1 L61.1,372.1 L61.4,373.1 L61.6,374.0 L62.0,375.5 L62.2,376.5 L62.3,377.4 L62.5,378.9 L62.6,380.4 L62.8,381.9 L63.2,383.3 L63.7,384.7 L64.1,385.6 L64.5,386.6 L64.9,387.5 L65.6,388.8 L66.5,390.0 L67.5,391.1 L68.7,392.0 L70.0,392.7 L71.4,393.2 L72.9,393.3 L73.9,393.4 L75.4,393.5 L76.8,393.9 L77.8,394.1 L78.7,394.4 L79.7,394.7 L80.7,394.9 L81.7,395.2 L82.6,395.4 L83.6,395.6 L85.0,396.0 L86.5,396.5 L87.4,396.8 L88.8,397.3 L90.0,398.1 L90.6,399.4 L91.2,400.7 L92.1,401.8 L93.2,402.8 L94.4,403.8 L95.6,404.6 L96.5,405.2 L97.3,405.7 L98.2,406.2 L99.0,406.8 L99.8,407.3 L100.7,407.8 L101.5,408.4 L102.4,408.9 L103.6,409.8 L104.7,410.8 L105.7,411.9 L106.3,412.7 L107.2,413.9 L108.0,415.2 L108.4,416.1 L109.0,417.4 L109.5,418.9 L109.9,420.3 L110.6,421.5 L111.7,422.5 L112.5,423.1 L113.3,423.8 L114.1,424.4 L114.8,425.1 L115.9,426.1 L116.9,427.2 L117.8,428.4 L118.5,429.7 L119.1,431.1 L119.5,432.0 L120.0,433.4 L120.4,434.9 L120.6,435.8 L120.8,436.8 L121.0,437.8 L121.2,438.8 L121.4,439.7 L121.6,440.7 L121.8,441.7 L122.0,442.7 L122.2,443.7 L122.4,444.7 L122.5,445.7 L122.7,446.6 L122.9,447.6 L123.1,448.6 L123.2,449.6 L123.5,451.1 L124.1,452.3 L125.2,453.2 L126.5,454.0 L127.7,454.9 L128.8,455.9 L129.6,457.1 L130.1,458.5 L130.8,459.8 L131.8,460.8 L133.0,461.7 L134.2,462.6 L135.1,463.2 L136.2,464.0 L136.9,465.2 L137.1,466.7 L137.4,468.1 L138.3,469.3 L139.3,470.3 L140.3,471.5 L140.9,472.3 L141.5,473.0 L142.4,474.3 L142.9,475.1 L143.8,476.4 L144.7,477.5 L145.3,478.3 L146.2,479.5 L146.9,480.9 L147.4,482.2 L148.2,483.3 L149.6,483.7 L150.6,483.8 L151.5,484.0 L152.5,484.2 L153.5,484.4 L154.5,484.6 L155.5,484.7 L156.5,484.9 L157.5,485.1 L158.4,485.3 L159.4,485.4 L160.4,485.6 L161.4,485.8 L162.4,486.0 L163.4,486.2 L164.3,486.4 L165.3,486.6 L166.3,486.8 L167.3,487.0 L168.2,487.2 L169.7,487.6 L170.8,488.4 L171.5,489.6 L172.1,491.0 L172.8,492.3 L173.3,493.2 L174.1,494.4 L175.2,495.3 L176.6,496.0 L177.5,496.4 L178.8,497.0 L180.3,497.5 L181.2,497.7 L182.2,498.0 L183.2,498.2 L184.1,498.5 L185.1,498.7 L186.1,498.9 L187.1,499.2 L188.5,499.6 L189.9,500.1 L191.3,500.5 L192.3,500.8 L193.3,501.0 L194.2,501.3 L195.2,501.5 L196.2,501.8 L197.1,502.1 L198.1,502.3 L199.1,502.6 L200.0,502.8 L201.5,503.2 L203.0,503.4 L204.0,503.5 L205.0,503.6 L206.0,503.7 L207.0,503.8 L208.0,503.8 L209.0,503.9 L210.0,503.9 L211.0,504.0 L212.0,504.0 L213.0,504.1 L214.0,504.2 L215.0,504.3 L216.0,504.4 L217.0,504.4 L217.9,504.5 L218.9,504.6 L219.9,504.7 L220.9,504.8 L221.9,504.9 L222.9,505.0 L223.9,505.1 L225.4,505.2 L226.4,505.2 L227.4,505.2 L228.4,505.2 L229.4,505.2 L230.9,505.3 L231.9,505.4 L232.9,505.5 L233.9,505.6 L234.9,505.7 L235.9,505.8 L236.9,505.9 L237.9,506.0 L238.9,506.0 L239.9,506.1 L240.9,506.2 L241.9,506.3 L242.9,506.4 L243.9,506.6 L244.8,506.7 L245.8,506.9 L246.8,507.0 L247.8,507.2 L248.8,507.3 L249.8,507.5 L251.3,507.7 L252.7,508.0 L254.1,508.5 L255.1,508.9 L256.0,509.2 L257.0,509.5 L257.9,509.9 L259.3,510.4 L260.2,510.9 L261.1,511.3 L262.0,511.7 L262.9,512.1 L263.8,512.5 L264.7,513.0 L265.6,513.4 L266.5,513.9 L267.4,514.3 L268.3,514.8 L269.2,515.2 L270.6,515.8 L272.0,516.1 L273.0,516.3 L274.0,516.5 L275.0,516.7 L276.0,516.9 L277.0,517.0 L278.0,517.2 L278.9,517.3 L279.9,517.5 L280.9,517.6 L281.9,517.8 L282.9,517.9 L283.9,518.1 L284.9,518.2 L285.9,518.4 L286.8,518.6 L287.8,518.8 L288.8,519.0 L289.8,519.2 L290.8,519.4 L291.7,519.6 L292.7,519.8 L293.7,520.1 L294.7,520.3 L295.6,520.6 L297.1,520.8 L298.6,520.9 L299.6,520.9 L300.6,520.9 L301.6,520.9 L302.6,520.9 L303.6,520.9 L304.6,520.9 L305.6,520.9 L306.6,520.9 L307.6,520.9 L308.6,520.9 L309.6,520.9 L310.6,520.9 L311.6,520.9 L312.6,520.9 L313.6,520.9 L314.6,520.9 L315.6,520.9 L316.6,520.9 L317.6,520.9 L318.6,520.9 L319.6,520.9 L320.6,520.9 L321.6,520.9 L322.6,520.9 L323.6,520.9 L324.6,520.9 L325.6,520.9 L326.6,520.9 L327.6,520.9 L328.6,520.9 L329.6,520.9 L330.6,520.9 L331.6,520.9 L332.6,520.9 L333.6,520.9 L334.6,520.9 L335.6,520.9 L336.6,520.9 L337.6,520.9 L338.6,520.9 L339.6,520.9 L340.6,520.9 L341.6,520.9 L342.6,520.9 L343.6,520.9 L344.6,520.9 L345.6,520.9 L346.6,520.9 L347.6,520.9 L348.6,520.9 L349.6,520.9 L350.6,520.9 L351.6,520.9 L352.6,520.9 L353.6,520.9 L354.6,520.9 L355.6,520.9 L356.6,520.9 L357.6,520.9 L358.6,520.9 L359.6,520.9 L360.6,520.9 L361.6,520.9 L362.6,520.9 L363.6,520.9 L364.6,520.9 L365.6,520.9 L366.6,520.9 L367.6,520.9 L368.6,520.9 L369.6,520.9 L370.6,520.9 L371.6,520.9 L372.6,520.9 L373.6,520.9 L374.6,520.9 L375.6,520.9 L376.6,520.9 L377.6,520.9 L378.6,520.9 L379.6,520.9 L380.6,520.9 L381.6,520.9 L382.6,520.9 L383.6,520.9 L384.6,520.9 L385.6,520.9 L386.6,520.9 L387.6,520.9 L388.6,520.9 L389.6,520.9 L390.6,520.9 L391.6,520.9 L392.6,520.9 L393.6,520.9 L394.6,520.9 L395.6,520.9 L396.6,520.9 L397.6,520.9 L398.6,520.9 L399.6,520.9 L400.6,520.9 L401.6,520.9 L402.6,520.9 L403.6,520.9 L404.6,520.9 L405.7,520.9 L406.7,520.9 L407.7,520.9 L408.7,520.9 L409.7,520.9 L410.7,520.9 L411.7,520.9 L412.7,520.9 L413.7,520.9 L414.7,520.9 L415.7,520.9 L416.7,520.9 L417.7,520.9 L418.7,520.9 L419.7,520.9 L420.7,520.9 L421.7,520.9 L422.7,520.9 L423.7,520.9 L424.7,520.9 L425.7,520.9 L426.7,520.9 L427.7,520.9 L428.7,520.9 L429.7,520.9 L430.7,520.9 L431.7,520.9 L432.7,520.9 L433.7,520.9 L434.7,520.9 L435.7,520.9 L436.7,520.9 L437.7,520.9 L438.7,520.9 L439.7,520.9 L440.7,521.0 L441.7,521.0 L442.7,521.0 L443.7,521.0 L444.7,521.0 L445.7,521.0 L446.7,521.0 L447.7,521.0 L448.7,521.0 L449.7,521.0 L450.7,521.0 L451.7,521.0 L452.7,521.0 L453.7,521.0 L454.7,521.0 L455.7,521.0 L456.7,521.0 L457.7,521.0 L458.7,521.0 L459.7,521.0 L460.7,521.0 L461.7,521.0 L462.7,521.0 L463.7,521.0 L464.7,521.0 L465.7,521.0 L466.7,521.0 L467.7,521.0 L468.7,521.0 L469.7,521.0 L470.7,521.0 L471.7,521.0 L472.7,521.0 L473.7,521.0 L474.7,521.0 L475.7,521.0 L476.7,521.0 L477.7,521.0 L478.7,521.0 L479.7,521.0 L480.7,521.0 L481.7,521.0 L482.7,521.0 L483.7,521.0 L484.7,521.0 L485.7,521.0 L486.7,521.0 L488.2,521.0 L489.2,521.0" fill="none" stroke="#45105f" stroke-width="1.8" stroke-linejoin="round" stroke-linecap="round"/>
<path d="M57.1,351.7 L57.3,352.7 L57.5,354.2 L57.7,355.2 L57.9,356.1 L58.1,357.1 L58.3,358.1 L58.5,359.1 L58.7,360.1 L58.9,361.0 L59.1,362.0 L59.3,363.0 L59.5,364.0 L59.7,365.0 L59.9,365.9 L60.3,367.4 L60.6,368.3 L60.9,369.3 L61.2,370.2 L61.5,371.2 L61.8,372.1 L62.1,373.1 L62.4,374.1 L62.7,375.0 L63.0,376.5 L63.2,378.0 L63.3,379.0 L63.4,380.0 L63.5,381.0 L63.7,382.4 L64.2,383.8 L65.0,385.1 L65.5,385.9 L66.1,386.8 L66.9,388.0 L67.8,389.2 L68.9,390.2 L70.1,391.1 L71.0,391.6 L72.3,392.4 L73.4,393.3 L74.5,394.4 L75.2,395.1 L75.9,395.7 L76.7,396.4 L77.4,397.1 L78.1,397.8 L78.8,398.5 L79.5,399.3 L80.2,400.0 L80.9,400.6 L81.7,401.3 L82.4,402.0 L83.2,402.6 L83.9,403.3 L84.7,403.9 L85.4,404.6 L86.2,405.3 L86.9,405.9 L87.7,406.6 L88.5,407.2 L89.6,408.3 L90.5,409.4 L91.2,410.7 L91.7,411.6 L92.5,412.9 L93.5,414.0 L94.1,414.8 L94.8,415.5 L95.8,416.5 L97.2,417.2 L98.6,417.7 L99.5,418.1 L100.4,418.4 L101.4,418.8 L102.3,419.1 L103.2,419.5 L104.6,420.1 L105.8,420.9 L107.0,421.9 L107.8,422.5 L108.5,423.1 L109.3,423.8 L110.1,424.4 L110.9,425.0 L112.0,426.0 L113.0,427.1 L113.7,427.9 L114.3,428.6 L115.0,429.4 L116.1,430.4 L116.8,431.1 L117.5,431.8 L118.3,432.5 L119.0,433.1 L119.8,433.8 L120.5,434.4 L121.3,435.1 L122.1,435.7 L122.8,436.4 L123.6,437.0 L124.4,437.7 L125.1,438.3 L126.2,439.3 L126.9,440.0 L127.6,440.8 L128.7,441.8 L129.6,443.1 L130.1,443.9 L131.0,445.1 L132.0,446.2 L133.2,447.1 L133.9,447.8 L134.7,448.4 L135.4,449.1 L136.1,449.8 L136.9,450.5 L137.6,451.2 L138.3,451.9 L139.0,452.7 L139.6,453.4 L140.3,454.1 L141.3,455.2 L142.5,456.2 L143.2,456.8 L144.0,457.5 L145.1,458.5 L145.8,459.2 L146.5,460.0 L147.2,460.7 L147.8,461.4 L148.5,462.1 L149.2,462.9 L149.9,463.6 L150.6,464.3 L151.6,465.4 L152.6,466.5 L153.8,467.3 L154.7,467.7 L155.6,468.2 L156.5,468.6 L157.4,469.1 L158.3,469.5 L159.2,470.0 L160.1,470.4 L161.0,470.9 L162.3,471.6 L163.5,472.4 L164.3,473.1 L165.0,473.8 L165.8,474.4 L166.5,475.1 L167.3,475.8 L168.0,476.4 L168.8,477.0 L169.6,477.6 L170.8,478.5 L172.1,479.3 L173.0,479.7 L173.9,480.2 L174.8,480.6 L176.2,481.2 L177.1,481.6 L178.0,481.9 L179.0,482.3 L180.4,482.7 L181.9,483.0 L182.9,483.2 L183.8,483.4 L184.8,483.6 L185.8,483.9 L187.2,484.2 L188.5,484.9 L189.6,485.9 L190.5,487.1 L191.1,488.4 L192.2,489.0 L193.5,489.5 L194.8,490.3 L196.1,491.1 L197.0,491.5 L197.9,491.9 L198.8,492.3 L199.7,492.8 L200.6,493.2 L201.5,493.6 L202.4,494.0 L203.4,494.4 L204.3,494.8 L205.2,495.1 L206.1,495.5 L207.1,495.9 L208.0,496.3 L208.9,496.6 L209.8,497.0 L210.8,497.4 L211.7,497.7 L213.1,498.2 L214.6,498.6 L215.6,498.8 L216.5,499.0 L217.5,499.2 L218.5,499.4 L219.5,499.6 L220.4,499.8 L221.4,500.1 L222.4,500.3 L223.4,500.6 L224.3,500.8 L225.3,501.0 L226.3,501.3 L227.6,501.7 L228.6,502.7 L229.4,503.8 L230.8,504.3 L232.2,504.5 L233.2,504.7 L234.2,504.9 L235.2,505.0 L236.2,505.2 L237.2,505.4 L238.2,505.6 L239.1,505.7 L240.1,505.8 L241.1,505.9 L242.1,506.0 L243.1,506.1 L244.1,506.2 L245.1,506.3 L246.1,506.4 L247.1,506.6 L248.1,506.7 L249.6,507.0 L251.0,507.5 L251.9,507.9 L252.8,508.2 L253.8,508.6 L255.2,509.1 L256.1,509.4 L257.1,509.7 L258.0,510.0 L259.0,510.3 L260.4,510.8 L261.7,511.5 L262.6,511.9 L263.5,512.4 L264.9,513.0 L265.8,513.4 L266.8,513.7 L267.7,514.0 L269.1,514.5 L270.6,514.7 L271.6,514.8 L272.6,514.8 L273.6,514.9 L274.6,515.0 L275.6,515.0 L276.6,515.0 L277.6,515.1 L278.6,515.1 L279.6,515.1 L280.6,515.2 L281.6,515.2 L282.6,515.3 L283.6,515.3 L284.6,515.4 L285.6,515.5 L286.6,515.6 L287.6,515.7 L288.6,515.8 L289.6,515.9 L290.6,516.0 L291.6,516.2 L292.6,516.3 L293.6,516.4 L294.5,516.5 L295.5,516.7 L296.5,516.8 L297.5,516.9 L298.5,516.9 L299.5,517.0 L300.5,517.1 L301.5,517.2 L302.5,517.3 L303.5,517.4 L304.5,517.5 L306.0,517.7 L307.5,517.9 L309.0,518.0 L310.0,518.1 L311.0,518.1 L312.0,518.1 L313.0,518.1 L314.0,518.2 L315.0,518.2 L316.0,518.2 L317.0,518.3 L318.0,518.3 L319.0,518.4 L320.0,518.4 L321.0,518.5 L322.0,518.5 L323.0,518.6 L324.0,518.7 L325.0,518.8 L326.0,518.9 L326.9,519.0 L327.9,519.2 L328.9,519.3 L329.9,519.4 L330.9,519.5 L331.9,519.6 L332.9,519.6 L333.9,519.7 L334.9,519.8 L335.9,519.8 L336.9,519.9 L337.9,520.0 L338.9,520.0 L339.9,520.0 L340.9,520.1 L341.9,520.1 L342.9,520.1 L343.9,520.1 L344.9,520.2 L345.9,520.2 L346.9,520.2 L347.9,520.3 L348.9,520.3 L349.9,520.3 L350.9,520.4 L351.9,520.4 L352.9,520.5 L353.9,520.5 L354.9,520.5 L355.9,520.6 L356.9,520.6 L357.9,520.7 L358.9,520.7 L359.9,520.7 L360.9,520.8 L362.4,520.9 L363.4,521.1 L364.4,521.2 L365.4,521.4 L366.4,521.5 L367.4,521.7 L368.4,521.8 L369.4,521.9 L370.3,522.0 L371.3,522.2 L372.8,522.3 L373.8,522.3 L374.8,522.3 L375.8,522.3 L376.8,522.3 L377.8,522.3 L378.8,522.3 L379.8,522.3 L380.8,522.3 L381.8,522.4 L382.8,522.4 L383.8,522.4 L384.8,522.4 L385.8,522.5 L386.8,522.5 L387.8,522.5 L388.8,522.6 L389.8,522.6 L390.8,522.6 L391.8,522.6 L392.8,522.6 L393.8,522.6 L394.8,522.6 L395.8,522.6 L396.8,522.6 L397.8,522.6 L398.9,522.6 L399.9,522.6 L400.9,522.6 L401.9,522.6 L402.9,522.6 L403.9,522.6 L404.9,522.6 L405.9,522.6 L406.9,522.6 L407.9,522.6 L408.9,522.6 L409.9,522.7 L410.9,522.7 L411.9,522.7 L412.9,522.7 L413.9,522.7 L414.9,522.7 L415.9,522.7 L416.9,522.7 L417.9,522.8 L418.9,522.8 L419.9,522.8 L420.9,522.8 L421.9,522.8 L422.9,522.8 L423.9,522.9 L424.9,522.9 L425.9,522.9 L426.9,522.9 L427.9,523.0 L428.9,523.0 L429.9,523.0 L430.9,523.0 L431.9,523.1 L432.9,523.1 L433.9,523.1 L434.9,523.2 L435.9,523.2 L436.9,523.2 L437.9,523.3 L439.4,523.5 L440.4,523.6 L441.8,523.9 L443.3,524.3 L444.7,524.8 L446.2,524.9 L447.2,524.9 L448.2,524.9 L449.2,524.9 L450.2,524.9 L451.2,524.9 L452.2,524.9 L453.2,524.9 L454.2,524.9 L455.2,524.9 L456.2,524.9 L457.2,524.9 L458.2,524.9 L459.2,524.9 L460.2,524.9 L461.2,524.9 L462.2,524.9 L463.2,524.9 L464.2,524.9 L465.2,524.9 L466.2,524.9 L467.2,524.9 L468.2,524.9 L469.2,524.9 L470.2,524.9 L471.2,524.9 L472.2,524.9 L473.2,524.9 L474.2,524.9 L475.2,524.9 L476.2,524.9 L477.2,524.9 L478.2,524.9 L479.2,524.9 L480.2,524.9 L481.2,524.9 L482.2,524.9 L483.2,524.9 L484.2,524.9 L485.2,524.9 L486.2,524.9 L487.2,524.9 L488.6,524.9 L489.2,524.9" fill="none" stroke="#22a935" stroke-width="1.8" stroke-linejoin="round" stroke-linecap="round"/>
<path d="M56.75,345.4 V526.1 H499" fill="none" stroke="#000" stroke-width="1.7"/>
<path d="M52,526.10 H56.75" stroke="#000" stroke-width="1.3"/>
<text x="48.6" y="529.70" class="tk" text-anchor="end">0</text>
<path d="M52,508.64 H56.75" stroke="#000" stroke-width="1.3"/>
<text x="48.6" y="512.24" class="tk" text-anchor="end">10</text>
<path d="M52,491.18 H56.75" stroke="#000" stroke-width="1.3"/>
<text x="48.6" y="494.78" class="tk" text-anchor="end">20</text>
<path d="M52,473.72 H56.75" stroke="#000" stroke-width="1.3"/>
<text x="48.6" y="477.32" class="tk" text-anchor="end">30</text>
<path d="M52,456.26 H56.75" stroke="#000" stroke-width="1.3"/>
<text x="48.6" y="459.86" class="tk" text-anchor="end">40</text>
<path d="M52,438.80 H56.75" stroke="#000" stroke-width="1.3"/>
<text x="48.6" y="442.40" class="tk" text-anchor="end">50</text>
<path d="M52,421.34 H56.75" stroke="#000" stroke-width="1.3"/>
<text x="48.6" y="424.94" class="tk" text-anchor="end">60</text>
<path d="M52,403.88 H56.75" stroke="#000" stroke-width="1.3"/>
<text x="48.6" y="407.48" class="tk" text-anchor="end">70</text>
<path d="M52,386.42 H56.75" stroke="#000" stroke-width="1.3"/>
<text x="48.6" y="390.02" class="tk" text-anchor="end">80</text>
<path d="M52,368.96 H56.75" stroke="#000" stroke-width="1.3"/>
<text x="48.6" y="372.56" class="tk" text-anchor="end">90</text>
<path d="M52,351.50 H56.75" stroke="#000" stroke-width="1.3"/>
<text x="48.6" y="355.10" class="tk" text-anchor="end">100</text>
<path d="M56.75,526.1 V529.9" stroke="#000" stroke-width="1.3"/>
<text x="57.35" y="542" class="tk" text-anchor="middle">0</text>
<path d="M104.85,526.1 V529.9" stroke="#000" stroke-width="1.3"/>
<text x="106.05" y="542" class="tk" text-anchor="middle">12</text>
<path d="M152.94,526.1 V529.9" stroke="#000" stroke-width="1.3"/>
<text x="154.75" y="542" class="tk" text-anchor="middle">24</text>
<path d="M201.04,526.1 V529.9" stroke="#000" stroke-width="1.3"/>
<text x="203.45" y="542" class="tk" text-anchor="middle">36</text>
<path d="M249.13,526.1 V529.9" stroke="#000" stroke-width="1.3"/>
<text x="252.15" y="542" class="tk" text-anchor="middle">48</text>
<path d="M297.23,526.1 V529.9" stroke="#000" stroke-width="1.3"/>
<text x="300.85" y="542" class="tk" text-anchor="middle">60</text>
<path d="M345.33,526.1 V529.9" stroke="#000" stroke-width="1.3"/>
<text x="349.55" y="542" class="tk" text-anchor="middle">72</text>
<path d="M393.42,526.1 V529.9" stroke="#000" stroke-width="1.3"/>
<text x="398.25" y="542" class="tk" text-anchor="middle">84</text>
<path d="M441.52,526.1 V529.9" stroke="#000" stroke-width="1.3"/>
<text x="446.95" y="542" class="tk" text-anchor="middle">96</text>
<path d="M495.60,526.1 V529.9" stroke="#000" stroke-width="1.3"/>
<text x="495.65" y="542" class="tk" text-anchor="middle">108</text>
<text x="277.6" y="556.4" class="cd" font-size="12.3" text-anchor="middle" textLength="90.5" lengthAdjust="spacingAndGlyphs">Months from trial entry</text>
<text transform="translate(26.9,436) rotate(-90)" x="0" y="0" class="cd" font-size="12.8" text-anchor="middle" textLength="114" lengthAdjust="spacingAndGlyphs">Progression free survival (%)</text>
<text x="281.1" y="374.70000000000005" class="tx" style="letter-spacing:0.37px">HR=1.17, 95 CI=1.12–1.23, <tspan font-style="italic" font-size="9" dy="0.8">χ</tspan><tspan dy="-4.8" font-size="7.3">2</tspan><tspan dy="4">=40.73, p&lt;0.0001</tspan></text>
<path d="M327,403.1 H339.6" stroke="#c90d2c" stroke-width="1.8"/>
<text x="343.5" y="406.9" class="tx">IgG</text>
<text x="370.8" y="406.9" class="tx">Median: 21 (95% CI=20–22)</text>
<path d="M327,418.4 H339.6" stroke="#0e4987" stroke-width="1.8"/>
<text x="343.5" y="421.9" class="tx">IgA</text>
<text x="370.8" y="421.9" class="tx">Median: 18 (95% CI=16–19)</text>
<path d="M327,433.7 H339.6" stroke="#45105f" stroke-width="1.8"/>
<text x="343.5" y="436.9" class="tx">IgD</text>
<text x="370.8" y="436.9" class="tx">Median: 16 (95% CI=13–20)</text>
<path d="M327,449.0 H339.6" stroke="#22a935" stroke-width="1.8"/>
<text x="343.5" y="451.9" class="tx">LCO</text>
<text x="370.8" y="451.9" class="tx">Median: 18 (95% CI=15–19)</text>
<text x="10.0" y="570.9" class="tb">Number at risk (number censored):</text>
<text x="30.75" y="585.7" class="tr" text-anchor="end">IgG</text>
<text x="57.01" y="585.7" class="tb" text-anchor="middle">1597 (4)</text>
<text x="105.71" y="585.7" class="tb" text-anchor="middle">1109 (8)</text>
<text x="154.41" y="585.7" class="tb" text-anchor="middle">708 (16)</text>
<text x="203.11" y="585.7" class="tb" text-anchor="middle">437 (29)</text>
<text x="251.81" y="585.7" class="tb" text-anchor="middle">285 (32)</text>
<text x="300.50" y="585.7" class="tb" text-anchor="middle">202 (44)</text>
<text x="349.21" y="585.7" class="tb" text-anchor="middle">141 (56)</text>
<text x="397.91" y="585.7" class="tb" text-anchor="middle">101 (59)</text>
<text x="446.61" y="585.7" class="tb" text-anchor="middle">85 (63)</text>
<text x="495.31" y="585.7" class="tb" text-anchor="middle">73 (99)</text>
<text x="30.75" y="597.7" class="tr" text-anchor="end">IgA</text>
<text x="57.01" y="597.7" class="tb" text-anchor="middle">738 (2)</text>
<text x="105.71" y="597.7" class="tb" text-anchor="middle">484 (3)</text>
<text x="154.41" y="597.7" class="tb" text-anchor="middle">254 (6)</text>
<text x="203.11" y="597.7" class="tb" text-anchor="middle">139 (8)</text>
<text x="251.81" y="597.7" class="tb" text-anchor="middle">82 (11)</text>
<text x="300.50" y="597.7" class="tb" text-anchor="middle">59 (13)</text>
<text x="349.21" y="597.7" class="tb" text-anchor="middle">43 (16)</text>
<text x="397.91" y="597.7" class="tb" text-anchor="middle">34 (17)</text>
<text x="446.61" y="597.7" class="tb" text-anchor="middle">24 (17)</text>
<text x="495.31" y="597.7" class="tb" text-anchor="middle">21 (28)</text>
<text x="30.75" y="609.7" class="tr" text-anchor="end">IgD</text>
<text x="57.01" y="609.7" class="tb" text-anchor="middle">45 (0)</text>
<text x="105.71" y="609.7" class="tb" text-anchor="middle">30 (0)</text>
<text x="154.41" y="609.7" class="tb" text-anchor="middle">11 (0)</text>
<text x="203.11" y="609.7" class="tb" text-anchor="middle">7 (0)</text>
<text x="251.81" y="609.7" class="tb" text-anchor="middle">5 (1)</text>
<text x="300.50" y="609.7" class="tb" text-anchor="middle">2 (1)</text>
<text x="349.21" y="609.7" class="tb" text-anchor="middle">1 (1)</text>
<text x="397.91" y="609.7" class="tb" text-anchor="middle">1 (1)</text>
<text x="446.61" y="609.7" class="tb" text-anchor="middle">1 (1)</text>
<text x="495.31" y="609.7" class="tb" text-anchor="middle">1 (2)</text>
<text x="30.75" y="621.7" class="tr" text-anchor="end">LCO</text>
<text x="57.01" y="621.7" class="tb" text-anchor="middle">375 (0)</text>
<text x="105.71" y="621.7" class="tb" text-anchor="middle">228 (1)</text>
<text x="154.41" y="621.7" class="tb" text-anchor="middle">128 (3)</text>
<text x="203.11" y="621.7" class="tb" text-anchor="middle">70 (4)</text>
<text x="251.81" y="621.7" class="tb" text-anchor="middle">40 (4)</text>
<text x="300.50" y="621.7" class="tb" text-anchor="middle">19 (4)</text>
<text x="349.21" y="621.7" class="tb" text-anchor="middle">13 (5)</text>
<text x="397.91" y="621.7" class="tb" text-anchor="middle">8 (5)</text>
<text x="446.61" y="621.7" class="tb" text-anchor="middle">5 (5)</text>
<text x="495.31" y="621.7" class="tb" text-anchor="middle">3 (6)</text>
</svg>
</body></html>
